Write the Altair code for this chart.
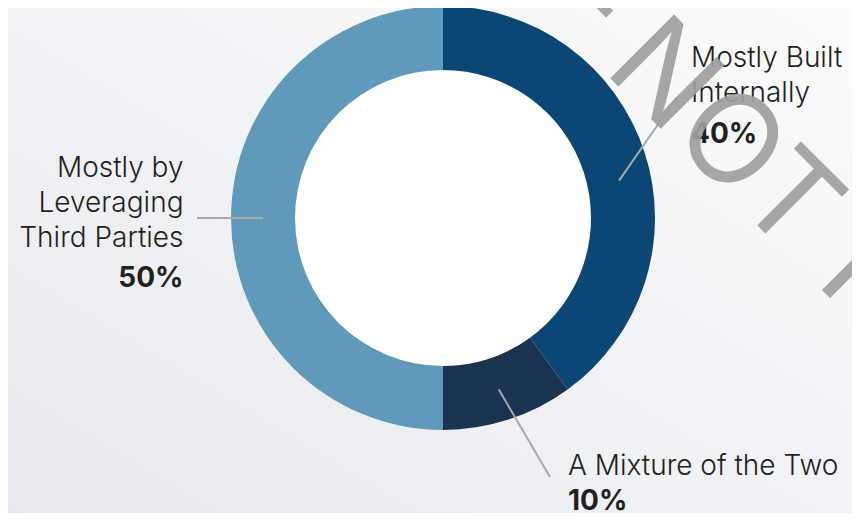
import math
import altair as alt
import pandas as pd

# ---- data ----
categories = ["Mostly Built Internally", "A Mixture of the Two", "Mostly by Leveraging Third Parties"]
shares = [40, 10, 50]
name_labels = ["Mostly Built\nInternally", "A Mixture of the Two", "Mostly by\nLeveraging\nThird Parties"]
pct_labels = ["40%", "10%", "50%"]

# ---- styles / layout ----
colors = ["#0b4774", "#1a3350", "#5f9aba"]
W, H = 844, 505
CX, CY = 435, 210
R_OUT, R_IN = 212, 148
R_MID = (R_OUT + R_IN) / 2
FS = 28
# leader-line nudge (deg) and end offsets relative to the centre, per slice
leader_nudge = [6, 0, 0]
leader_end = [(234, -121), (107, 259), (-246, 0)]
# label anchors (chart px), alignment
name_pos = [(683, 58.7, "left"), (560, 467, "left"), (175.5, 168.7, "right")]
pct_pos = [(683, 135.3, "left"), (560, 502, "left"), (175.5, 278.7, "right")]

df = pd.DataFrame({"category": categories, "share": shares, "idx": range(len(shares))})

total = sum(shares)
cum = 0
rows = []
for i, s in enumerate(shares):
    mid = (cum + s / 2) / total * 360 + leader_nudge[i]
    cum += s
    a = math.radians(mid)
    rows.append({
        "x": CX + R_MID * math.sin(a),
        "y": CY - R_MID * math.cos(a),
        "x2": CX + leader_end[i][0],
        "y2": CY + leader_end[i][1],
    })
leaders = pd.DataFrame(rows)

names = pd.DataFrame({
    "text": name_labels,
    "x": [p[0] for p in name_pos],
    "y": [p[1] for p in name_pos],
    "align": [p[2] for p in name_pos],
})
pcts = pd.DataFrame({
    "text": pct_labels,
    "x": [p[0] for p in pct_pos],
    "y": [p[1] for p in pct_pos],
    "align": [p[2] for p in pct_pos],
})

bg = alt.Chart(pd.DataFrame({"k": [0]})).mark_rect(
    fill={
        "gradient": "linear", "x1": 0, "y1": 1, "x2": 1, "y2": 0,
        "stops": [
            {"offset": 0, "color": "#e7e9ee"},
            {"offset": 0.5, "color": "#f1f2f5"},
            {"offset": 1, "color": "#fbfbfc"},
        ],
    }
).encode(x=alt.value(0), x2=alt.value(W), y=alt.value(0), y2=alt.value(H))

hole = alt.Chart(df).mark_arc(
    innerRadius=0, outerRadius=R_IN, x=CX, y=CY, color="#ffffff"
).encode(theta=alt.Theta("share:Q", stack=True))

arcs = alt.Chart(df).mark_arc(
    innerRadius=R_IN, outerRadius=R_OUT, x=CX, y=CY
).encode(
    theta=alt.Theta("share:Q", stack=True),
    color=alt.Color("category:N", scale=alt.Scale(domain=categories, range=colors), legend=None),
    order=alt.Order("idx:Q"),
)

lines = alt.Chart(leaders).mark_rule(color="#a9a9a9", strokeWidth=2).encode(
    x=alt.X("x:Q", scale=None, axis=None),
    y=alt.Y("y:Q", scale=None, axis=None),
    x2="x2:Q",
    y2="y2:Q",
)

def text_layer(d, weight):
    layers = []
    for al in ["left", "right"]:
        sub = d[d["align"] == al]
        layers.append(
            alt.Chart(sub).mark_text(
                font="Inter", fontSize=FS, fontWeight=weight, color="#231f20",
                align=al, baseline="alphabetic", lineBreak="\n", lineHeight=35,
            ).encode(
                x=alt.X("x:Q", scale=None, axis=None),
                y=alt.Y("y:Q", scale=None, axis=None),
                text="text:N",
            )
        )
    return layers

wm = pd.DataFrame({"text": ["– NOT FOR DISTRIBUTION"], "x": [526], "y": [-6]})
watermark = alt.Chart(wm).mark_text(
    font="Inter", fontSize=124, fontWeight=400, color="#a0a0a0", opacity=0.92,
    angle=45, align="left", baseline="alphabetic",
).encode(
    x=alt.X("x:Q", scale=None, axis=None),
    y=alt.Y("y:Q", scale=None, axis=None),
    text="text:N",
)

chart = alt.layer(
    bg, hole, arcs, lines, *text_layer(names, 300), *text_layer(pcts, 700), watermark
).properties(
    width=W, height=H, background="#f1f2f5", padding=0, autosize="none"
).configure_view(stroke=None)

chart.save("out.html", embed_options={"renderer": "svg", "actions": False})
